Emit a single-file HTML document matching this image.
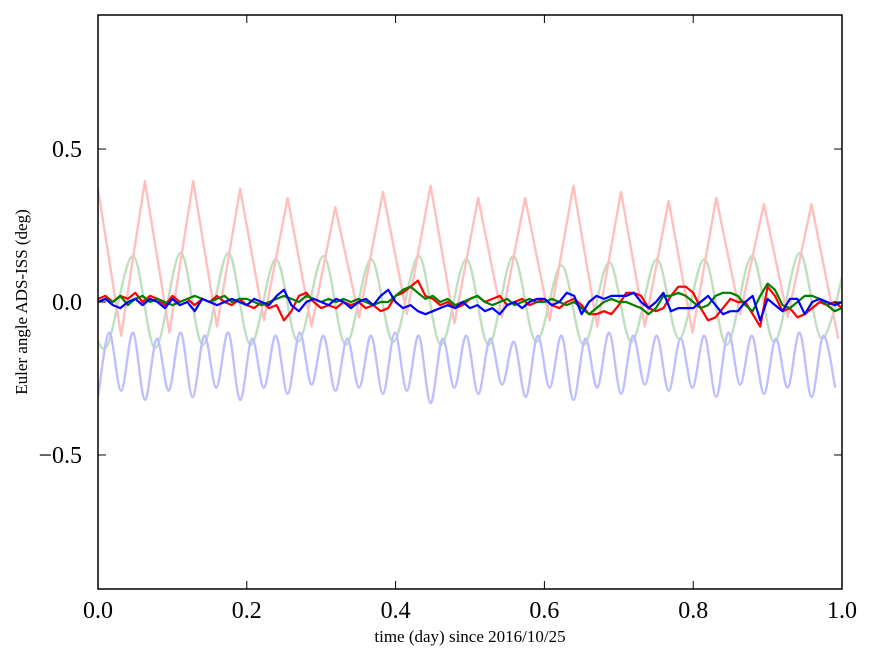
<!DOCTYPE html>
<html><head><meta charset="utf-8"><style>
body{margin:0;background:#fff;}
svg{display:block;font-family:"Liberation Serif",serif;}
</style></head><body>
<svg id="chart" width="875" height="662" xmlns="http://www.w3.org/2000/svg">
<rect width="875" height="662" fill="#fff"/>
<defs><clipPath id="pc"><rect x="98" y="15" width="744" height="574"/></clipPath></defs>
<g id="series" clip-path="url(#pc)"></g>
<g id="axes"></g>
<text x="470" y="642" font-size="17" text-anchor="middle">time (day) since 2016/10/25</text>
<text transform="translate(27,302) rotate(-90)" font-size="17" text-anchor="middle">Euler angle ADS-ISS (deg)</text>
</svg>
<script>
const xTicks=[0,0.2,0.4,0.6,0.8,1.0];
const xTickLabels=["0.0","0.2","0.4","0.6","0.8","1.0"];
const yTicks=[0.5,0,-0.5];
const yTickLabels=["0.5","0.0","\u22120.5"];
const redPeakT=[0.0,0.063,0.128,0.191,0.255,0.319,0.383,0.447,0.511,0.574,0.639,0.703,0.767,0.831,0.895,0.959];
const redPeakV=[0.37,0.395,0.395,0.37,0.34,0.31,0.36,0.38,0.34,0.34,0.38,0.36,0.33,0.34,0.32,0.32];
const redTroughT=[0.031,0.096,0.160,0.223,0.287,0.351,0.415,0.479,0.543,0.607,0.671,0.735,0.799,0.863,0.927,0.995];
const redTroughV=[-0.11,-0.10,-0.08,-0.06,-0.08,-0.05,-0.04,-0.07,-0.05,-0.06,-0.08,-0.08,-0.10,-0.04,-0.05,-0.12];
const greenPeakT=[0.047,0.111,0.175,0.239,0.303,0.367,0.431,0.495,0.558,0.623,0.687,0.751,0.815,0.879,0.943,1.007];
const greenPeakV=[0.15,0.16,0.16,0.14,0.15,0.14,0.15,0.14,0.15,0.12,0.13,0.14,0.14,0.15,0.16,0.15];
const greenTroughT=[-0.005,0.013,0.077,0.141,0.205,0.269,0.333,0.397,0.461,0.525,0.589,0.653,0.717,0.781,0.845,0.909,0.973];
const greenTroughV=[-0.10,-0.14,-0.15,-0.14,-0.14,-0.13,-0.14,-0.13,-0.14,-0.14,-0.13,-0.14,-0.13,-0.12,-0.14,-0.13,-0.12];
const bluePeakT=[0.015,0.047,0.079,0.111,0.143,0.175,0.207,0.239,0.271,0.303,0.335,0.367,0.399,0.431,0.463,0.495,0.527,0.559,0.591,0.623,0.655,0.687,0.719,0.751,0.783,0.815,0.847,0.879,0.911,0.943,0.975];
const bluePeakV=[-0.10,-0.10,-0.12,-0.10,-0.11,-0.10,-0.12,-0.11,-0.10,-0.11,-0.12,-0.11,-0.10,-0.11,-0.12,-0.11,-0.12,-0.13,-0.11,-0.11,-0.12,-0.10,-0.11,-0.11,-0.12,-0.11,-0.10,-0.11,-0.12,-0.10,-0.11];
const blueTroughT=[0.0,0.031,0.063,0.095,0.127,0.159,0.191,0.223,0.255,0.287,0.319,0.351,0.383,0.415,0.447,0.479,0.511,0.543,0.575,0.607,0.639,0.671,0.703,0.735,0.767,0.799,0.831,0.863,0.895,0.927,0.959,0.991];
const blueTroughV=[-0.31,-0.29,-0.32,-0.29,-0.31,-0.28,-0.32,-0.28,-0.30,-0.27,-0.29,-0.28,-0.30,-0.29,-0.33,-0.28,-0.30,-0.27,-0.31,-0.28,-0.32,-0.28,-0.30,-0.27,-0.29,-0.28,-0.31,-0.27,-0.30,-0.28,-0.31,-0.28];
const darkRed=[0.01,0.02,0.0,0.02,0.01,0.03,0.0,0.02,0.01,-0.01,0.02,0.0,0.01,-0.01,0.01,0.0,0.02,0.0,-0.01,0.01,-0.01,-0.02,0.0,-0.02,-0.01,-0.06,-0.03,0.02,0.03,0.0,-0.02,-0.01,-0.02,0.0,-0.01,0.0,-0.02,-0.01,-0.03,-0.02,0.02,0.03,0.05,0.07,0.02,0.01,-0.01,0.0,-0.02,-0.01,0.01,0.02,0.0,0.01,0.02,-0.01,0.0,0.01,-0.01,0.0,0.01,-0.01,-0.02,0.0,0.01,-0.01,-0.04,-0.04,-0.03,-0.04,-0.01,0.03,0.03,0.02,-0.02,-0.03,-0.02,0.02,0.05,0.05,0.03,-0.02,-0.06,-0.05,-0.02,0.01,0.0,0.0,-0.04,-0.08,0.05,0.02,-0.03,-0.02,-0.05,-0.04,-0.02,0.0,-0.01,0.0,-0.02];
const darkGreen=[0.0,0.01,0.0,0.02,-0.01,0.01,0.02,0.0,0.01,0.0,-0.01,0.0,0.01,0.02,0.01,0.0,0.01,0.02,0.0,0.01,0.01,0.0,-0.01,0.0,0.01,0.02,0.01,0.0,0.02,0.01,0.0,0.01,0.0,0.01,0.0,0.01,0.0,-0.01,0.0,0.0,0.02,0.04,0.05,0.03,0.01,0.02,0.0,0.01,-0.01,0.0,0.01,0.02,0.0,-0.01,0.0,0.01,-0.01,0.0,0.01,0.0,0.0,0.01,0.0,-0.01,0.0,-0.02,-0.04,-0.02,0.0,0.01,0.0,0.0,-0.01,-0.02,-0.04,-0.02,0.02,0.02,0.03,0.02,0.0,-0.02,-0.01,0.02,0.03,0.03,0.02,-0.01,-0.03,0.02,0.06,0.04,-0.01,-0.02,0.0,0.02,0.02,0.01,-0.01,-0.03,-0.02];
const darkBlue=[0.0,0.01,-0.01,-0.02,0.0,0.01,-0.01,0.01,0.0,-0.02,0.01,-0.01,0.0,-0.03,0.01,0.0,-0.01,0.0,0.01,0.0,-0.01,0.01,0.0,-0.01,0.02,0.04,-0.01,-0.03,0.0,0.01,0.0,-0.01,0.01,0.0,-0.02,0.0,0.01,-0.01,0.02,0.04,0.0,-0.02,-0.01,-0.03,-0.04,-0.03,-0.02,-0.01,-0.02,0.0,-0.02,-0.01,-0.03,-0.02,-0.04,-0.01,0.0,-0.02,0.0,0.01,0.01,-0.01,0.0,0.03,0.02,-0.04,0.0,0.02,0.01,0.02,0.02,0.02,0.03,0.0,-0.02,0.0,0.03,-0.03,-0.02,-0.02,-0.02,0.0,0.02,-0.01,-0.04,-0.03,-0.03,0.0,0.02,-0.06,0.01,-0.01,-0.03,0.01,0.01,-0.04,0.0,0.01,0.0,-0.01,0.0];

const X0=98,X1=842,Y0=15,Y1=589,YMIN=-0.938,YMAX=0.938;
const sx=t=>X0+(t-0)/(1-0)*(X1-X0);
const sy=v=>Y1-(v-YMIN)/(YMAX-YMIN)*(Y1-Y0);
const NS="http://www.w3.org/2000/svg";
const sg=document.getElementById('series'), ag=document.getElementById('axes');
function merge(aT,aV,bT,bV){const p=[];aT.forEach((t,i)=>p.push([t,aV[i]]));bT.forEach((t,i)=>p.push([t,bV[i]]));p.sort((a,b)=>a[0]-b[0]);return p.map(q=>[sx(q[0]),sy(q[1])]);}
function linePath(pts){return pts.map((p,i)=>(i?'L':'M')+p[0].toFixed(1)+','+p[1].toFixed(1)).join('');}
function smoothPath(pts){let d='M'+pts[0][0].toFixed(1)+','+pts[0][1].toFixed(1);for(let i=0;i<pts.length-1;i++){const p0=pts[Math.max(0,i-1)],p1=pts[i],p2=pts[i+1],p3=pts[Math.min(pts.length-1,i+2)];const c1=[p1[0]+(p2[0]-p0[0])/6,p1[1]+(p2[1]-p0[1])/6],c2=[p2[0]-(p3[0]-p1[0])/6,p2[1]-(p3[1]-p1[1])/6];d+='C'+c1.map(v=>v.toFixed(1))+' '+c2.map(v=>v.toFixed(1))+' '+p2.map(v=>v.toFixed(1));}return d;}
function addPath(d,color,w,name){const p=document.createElementNS(NS,'path');p.setAttribute('d',d);p.setAttribute('fill','none');p.setAttribute('stroke',color);p.setAttribute('stroke-width',w);p.setAttribute('stroke-linejoin','round');


sg.appendChild(p);}
addPath(smoothPath(merge(greenPeakT,greenPeakV,greenTroughT,greenTroughV)),'#bfdfbf',2.4,'light-green-series');
addPath(smoothPath(merge(bluePeakT,bluePeakV,blueTroughT,blueTroughV)),'#bfbfff',2.4,'light-blue-series');
addPath(linePath(merge(redPeakT,redPeakV,redTroughT,redTroughV)),'#ffbfbf',2.4,'light-red-series');
function dark(arr){return arr.map((v,i)=>[sx(i/(arr.length-1)),sy(v)]);}
addPath(linePath(dark(darkRed)),'#ff0000',2.2,'red-series');
addPath(linePath(dark(darkGreen)),'#008000',2.2,'green-series');
addPath(linePath(dark(darkBlue)),'#0000ff',2.2,'blue-series');
function el(tag,attrs,parent){const e=document.createElementNS(NS,tag);for(const k in attrs)e.setAttribute(k,attrs[k]);parent.appendChild(e);return e;}
xTicks.forEach((t,i)=>{const x=sx(t);
const a=el('line',{x1:x,x2:x,y1:Y1,y2:Y1-8,stroke:'#000','stroke-width':1},ag);


el('line',{x1:x,x2:x,y1:Y0,y2:Y0+8,stroke:'#000','stroke-width':1},ag);
const tx=el('text',{x:x,y:Y1+29,'font-size':24,'text-anchor':'middle'},ag);tx.textContent=xTickLabels[i];

});
yTicks.forEach((v,i)=>{const y=sy(v);
const a=el('line',{x1:X0,x2:X0+8,y1:y,y2:y,stroke:'#000','stroke-width':1},ag);


el('line',{x1:X1,x2:X1-8,y1:y,y2:y,stroke:'#000','stroke-width':1},ag);
const tx=el('text',{x:X0-16,y:y+8,'font-size':24,'text-anchor':'end'},ag);tx.textContent=yTickLabels[i];

});
const fr=el('rect',{x:X0,y:Y0,width:X1-X0,height:Y1-Y0,fill:'none',stroke:'#000','stroke-width':1.5},ag);


</script>
</body></html>
